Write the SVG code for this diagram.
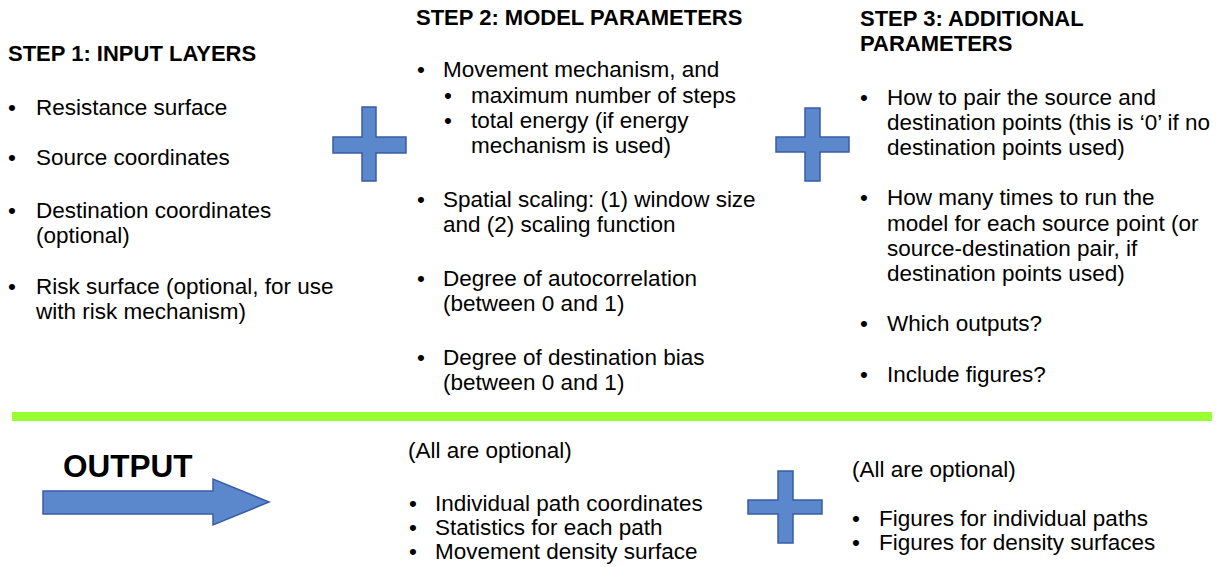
<svg xmlns="http://www.w3.org/2000/svg" width="1227" height="567" viewBox="0 0 1227 567">
<style>
text{font-family:"Liberation Sans",Arial,sans-serif;fill:#000;font-size:22.5px}
.h{font-weight:bold;font-size:22px}
.big{font-weight:bold;font-size:31.5px}
.shape{fill:#5B87CC;stroke:#3A5CA6;stroke-width:1.5}
</style>
<rect width="1227" height="567" fill="#fff"/>
<g id="step1">
<text class="h" x="8" y="61">STEP 1: INPUT LAYERS</text>
<text x="8" y="115">•</text><text x="36" y="115">Resistance surface</text>
<text x="8" y="165">•</text><text x="36" y="165">Source coordinates</text>
<text x="8" y="218">•</text><text x="36" y="218">Destination coordinates</text>
<text x="36" y="243">(optional)</text>
<text x="8" y="294">•</text><text x="36" y="294">Risk surface (optional, for use</text>
<text x="36" y="319">with risk mechanism)</text>
</g>
<g id="plus1"><path class="shape" d="M362,107 H376 V137 H406 V153 H376 V181 H362 V153 H333 V137 H362 Z"/></g>
<g id="step2">
<text class="h" x="416" y="25">STEP 2: MODEL PARAMETERS</text>
<text x="417" y="77">•</text><text x="443" y="77">Movement mechanism, and</text>
<text x="444" y="103">•</text><text x="471" y="103">maximum number of steps</text>
<text x="444" y="128">•</text><text x="471" y="128">total energy (if energy</text>
<text x="471" y="153">mechanism is used)</text>
<text x="417" y="207">•</text><text x="443" y="207">Spatial scaling: (1) window size</text>
<text x="443" y="232">and (2) scaling function</text>
<text x="417" y="286">•</text><text x="443" y="286">Degree of autocorrelation</text>
<text x="443" y="311">(between 0 and 1)</text>
<text x="417" y="365">•</text><text x="443" y="365">Degree of destination bias</text>
<text x="443" y="390">(between 0 and 1)</text>
</g>
<g id="plus2"><path class="shape" d="M805,108 H820 V137 H849 V152 H820 V181 H805 V152 H776 V137 H805 Z"/></g>
<g id="step3">
<text class="h" x="860" y="26">STEP 3: ADDITIONAL</text>
<text class="h" x="860" y="51">PARAMETERS</text>
<text x="860" y="105">•</text><text x="887" y="105">How to pair the source and</text>
<text x="887" y="130">destination points (this is ‘0’ if no</text>
<text x="887" y="155">destination points used)</text>
<text x="860" y="205">•</text><text x="887" y="205">How many times to run the</text>
<text x="887" y="231">model for each source point (or</text>
<text x="887" y="256">source-destination pair, if</text>
<text x="887" y="281">destination points used)</text>
<text x="860" y="331">•</text><text x="887" y="331">Which outputs?</text>
<text x="860" y="382">•</text><text x="887" y="382">Include figures?</text>
</g>
<g id="divider"><rect x="12" y="412" width="1200" height="9" fill="#99FF33"/></g>
<g id="output">
<text class="big" x="63" y="477">OUTPUT</text>
<path class="shape" stroke-width="1" d="M43,491 H213 V479 L269,502 L213,525 V514 H43 Z"/>
</g>
<g id="outputs1">
<text x="408" y="458">(All are optional)</text>
<text x="409" y="511">•</text><text x="435" y="511">Individual path coordinates</text>
<text x="409" y="535">•</text><text x="435" y="535">Statistics for each path</text>
<text x="409" y="559">•</text><text x="435" y="559">Movement density surface</text>
</g>
<g id="plus3"><path class="shape" d="M778,471 H793 V500 H822 V514 H793 V543 H778 V514 H748 V500 H778 Z"/></g>
<g id="outputs2">
<text x="852" y="477">(All are optional)</text>
<text x="852" y="526">•</text><text x="879" y="526">Figures for individual paths</text>
<text x="852" y="550">•</text><text x="879" y="550">Figures for density surfaces</text>
</g>
</svg>
